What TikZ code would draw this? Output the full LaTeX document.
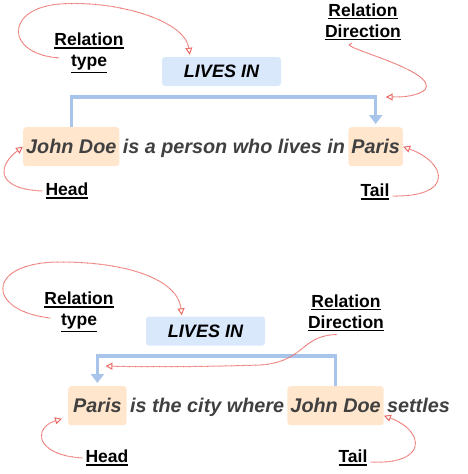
\documentclass[tikz,border=0pt]{standalone}
\usepackage{fontspec}
\setmainfont{Liberation Sans}
\usetikzlibrary{positioning, arrows.meta}
\definecolor{relblue}{HTML}{DAE8FC}
\definecolor{arrowblue}{HTML}{A9C4EB}
\definecolor{entpeach}{HTML}{FFE6CC}
\definecolor{notered}{HTML}{EA6B66}
\definecolor{sentgray}{HTML}{404040}
\newcommand{\sentfont}{\fontsize{19.8}{24}\selectfont\bfseries\itshape}
\newcommand{\labfont}{\fontsize{17.5}{21}\selectfont\bfseries}
\newcommand{\relfont}{\fontsize{18}{21}\selectfont\bfseries\itshape}
\newcommand{\uline}[1]{\vtop{\hbox{#1}\kern1.3pt\hrule height 1.4pt}}
\tikzstyle{ent} = [rectangle, rounded corners=3pt, fill=entpeach, text=sentgray, inner xsep=3pt, inner ysep=0pt, minimum height=39pt, font=\sentfont]
\tikzstyle{words} = [inner xsep=3pt, inner ysep=0pt, text=sentgray, font=\sentfont]
\tikzstyle{relbox} = [rectangle, rounded corners=3pt, fill=relblue, minimum width=119pt, minimum height=29pt, font=\relfont]
\tikzstyle{lab} = [align=center, inner sep=3pt, font=\labfont]
\tikzstyle{relline} = [arrowblue, line width=3.5pt, shorten >=3pt, -{Triangle[width=13pt,length=9pt]}]
\tikzstyle{note} = [notered, dash pattern=on 0.7pt off 0.5pt, line width=1pt, -{Triangle[open,width=7pt,length=7pt]}]
\begin{document}
\begin{tikzpicture}[x=1pt,y=-1pt]
\useasboundingbox (0,0) rectangle (468,474);

% upper example
\node[relbox] (lt) at (221.5,71.5) {LIVES IN};
\node[ent, anchor=north west] (jd) at (23,127) {John Doe};
\node[words, base right=0pt of jd] (mid) {is a person who lives in};
\node[ent, base right=0pt of mid] (paris) {Paris};
\node[lab] (rt) at (89,53) {\uline{Relation}\\\uline{type}};
\node[lab] (rd) at (363,22) {\uline{Relation}\\\uline{Direction}};
\node[lab] (hd) at (67,191) {\uline{Head}};
\node[lab] (tl) at (375,192) {\uline{Tail}};

\coordinate (tcorner) at ([yshift=30pt]paris.north);
\draw[relline] (jd.north) |- (tcorner) -- (paris.north);

\draw[note] ([shift={(8pt,-5pt)}]rt.west) .. controls +(-55,-4) and +(-55,4) .. (60,4)
  .. controls +(55,-4) and +(-5,-35) .. ([shift={(28pt,2pt)}]lt.north west);
\draw[note] ([xshift=-11pt]rd.south) .. controls +(-22,2) and +(15,-20) .. (425,90)
  .. controls +(-10,7) and +(15,0) .. ([xshift=10pt]tcorner);
\draw[note] (hd.west) .. controls +(-48,-2) and +(-25,18.5) .. (jd.west);
\draw[note] ([yshift=-4pt]tl.east) .. controls +(63,1) and +(43,15.5) .. (paris.east);

% lower example
\node[relbox] (lt2) at (205.5,331) {LIVES IN};
\node[ent, anchor=north west, inner xsep=5pt] (p2) at (68,386) {Paris};
\node[words, base right=0pt of p2] (mid2) {is the city where};
\node[ent, base right=0pt of mid2] (jd2) {John Doe};
\node[words, base right=0pt of jd2] (end2) {settles};
\node[lab] (rt2) at (79,312) {\uline{Relation}\\\uline{type}};
\node[lab] (rd2) at (346,313) {\uline{Relation}\\\uline{Direction}};
\node[lab] (hd2) at (107,458) {\uline{Head}};
\node[lab] (tl2) at (353,458) {\uline{Tail}};

\coordinate (bcorner) at ([yshift=30pt]p2.north);
\draw[relline] (jd2.north) |- (bcorner) -- (p2.north);

\draw[note] ([shift={(9pt,-6pt)}]rt2.west) .. controls +(-64.5,-7) and +(-75,0) .. (60,262)
  .. controls +(70,0) and +(-4,-35) .. ([shift={(36pt,1pt)}]lt2.north west);
\draw[note] ([xshift=-9pt]rd2.south) .. controls +(-37,1) and +(45,-3) .. (260,365)
  .. controls +(-60,2) and +(35,1) .. ([shift={(8pt,-10pt)}]bcorner);
\draw[note] (hd2.west) .. controls +(-48,-3) and +(-29,9) .. ([shift={(-6pt,-13pt)}]p2.west);
\draw[note] ([yshift=-4pt]tl2.east) .. controls +(58,3) and +(41,15) .. ([yshift=-10pt]jd2.east);
\end{tikzpicture}
\end{document}
